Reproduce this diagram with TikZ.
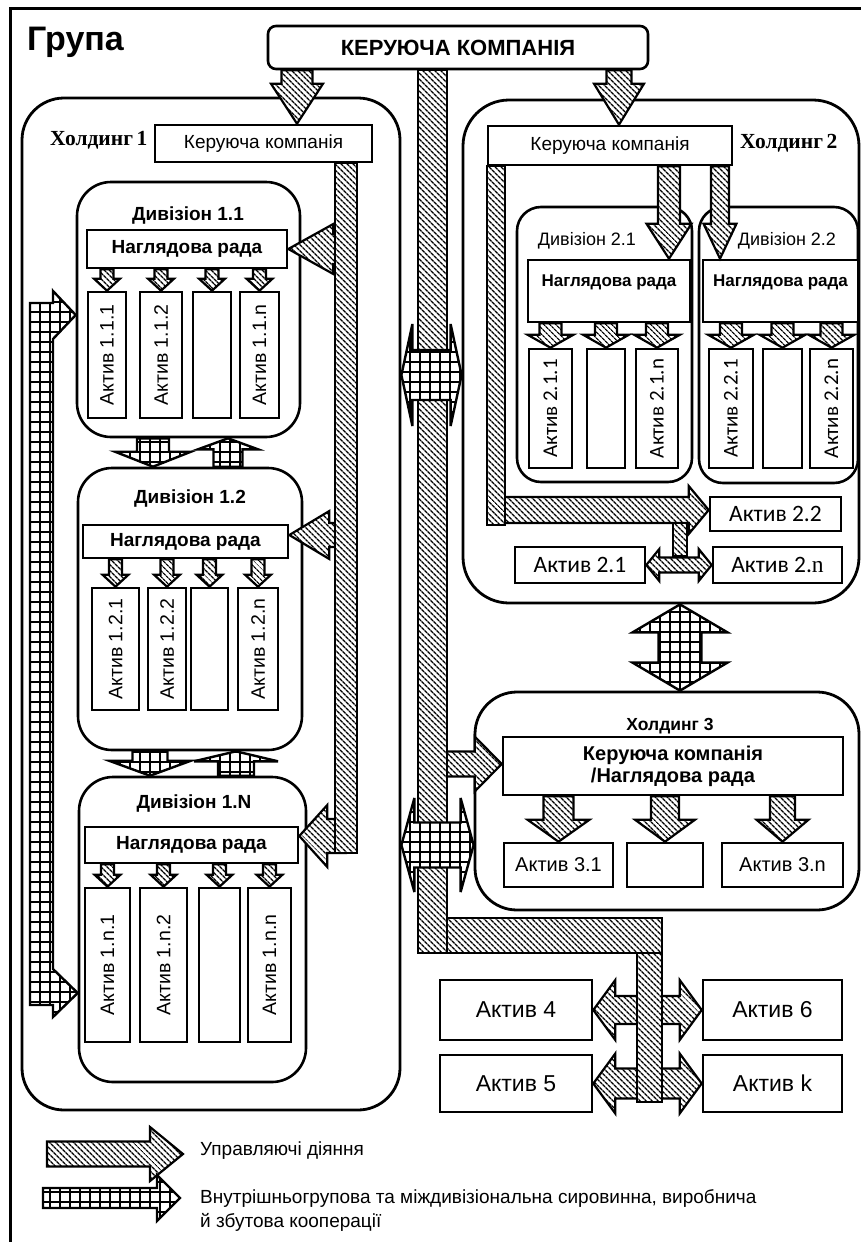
\documentclass[tikz,border=0pt]{standalone}
\usepackage{fontspec}
\setmainfont{Liberation Sans}
\newfontfamily\timesfont{Liberation Serif}
\newfontfamily\calfont{Carlito}
\usetikzlibrary{calc,patterns.meta}

\newcommand{\fatarrow}[6][hatchfill]{%
  \coordinate (fah) at ($(#3)!#6pt!(#2)$);
  \draw[#1] ($(#2)!#4pt!90:(#3)$) -- ($(fah)!#4pt!-90:(#2)$)
    -- ($(fah)!#5pt!-90:(#2)$) -- (#3) -- ($(fah)!#5pt!90:(#2)$)
    -- ($(fah)!#4pt!90:(#2)$) -- ($(#2)!#4pt!-90:(#3)$) -- cycle;}
\newcommand{\fatdarrow}[6][gridfill]{%
  \coordinate (fda) at ($(#2)!#6pt!(#3)$);
  \coordinate (fdb) at ($(#3)!#6pt!(#2)$);
  \draw[#1] (#2) -- ($(fda)!#5pt!90:(#3)$) -- ($(fda)!#4pt!90:(#3)$)
    -- ($(fdb)!#4pt!-90:(#2)$) -- ($(fdb)!#5pt!-90:(#2)$) -- (#3)
    -- ($(fdb)!#5pt!90:(#2)$) -- ($(fdb)!#4pt!90:(#2)$)
    -- ($(fda)!#4pt!-90:(#3)$) -- ($(fda)!#5pt!-90:(#3)$) -- cycle;}

\begin{document}
\begin{tikzpicture}[x=1pt, y=-1pt,
  font=\fontsize{19}{23}\selectfont,
  corners/.style args={#1/#2/#3/#4}{at={({(#1+#3)/2},{(#2+#4)/2})},
    minimum width={(#3)-(#1)}, minimum height={(#4)-(#2)}},
  box/.style={draw, line width=2.6pt, fill=white, inner sep=0pt, align=center},
  topbox/.style={box, rounded corners=8pt, font=\fontsize{22}{26}\selectfont\bfseries},
  holdbox/.style={draw, line width=2.8pt, rounded corners=42pt, inner sep=0pt},
  divbox/.style={draw, line width=2.6pt, rounded corners=34pt, inner sep=0pt},
  subdiv/.style={divbox, rounded corners=24pt},
  nrbox/.style={box, font=\fontsize{19}{23}\selectfont\bfseries},
  nrtop/.style={box, text height=13pt, text depth=23pt, font=\fontsize{17}{21}\selectfont\bfseries},
  vasset/.style={box, label={[rotate=90, font=\fontsize{19.5}{23}\selectfont]center:#1}},
  vassetc/.style={box, label={[rotate=90, font=\fontsize{21}{25}\selectfont\calfont]center:#1}},
  cbox/.style={box, font=\fontsize{23.5}{27}\selectfont\calfont},
  abox/.style={box, font=\fontsize{20}{24}\selectfont},
  bigbox/.style={box, font=\fontsize{23}{27}\selectfont},
  hlabel/.style={font=\fontsize{21.5}{25}\selectfont\timesfont\bfseries, inner sep=0pt},
  divlabel/.style={font=\fontsize{19}{23}\selectfont\bfseries, inner sep=0pt},
  hatchfill/.style={draw, line width=2.2pt, miter limit=6, preaction={fill=white},
    pattern={Lines[angle=-45,distance=4pt,line width=1.4pt]}},
  gridfill/.style={draw, line width=2.4pt, miter limit=6, preaction={fill=white},
    pattern={Hatch[distance=10pt,line width=2.2pt]}},
  frame/.style={line width=3pt}
]
  \useasboundingbox (0,0) rectangle (861,1242);
  \draw[frame] (10,1242) -- (10,8) -- (861,8);
  \node[anchor=base west, inner sep=0pt, font=\fontsize{34}{40}\selectfont\bfseries] (grupa) at (27,50) {Група};

  \node[holdbox, corners=22/98/400/1110] (h1) {};
  \node[holdbox, rounded corners=46pt, corners=463/100/859/603] (h2) {};
  \node[holdbox, corners=475/692/859/910] (h3) {};
  \node[topbox, corners=268/26/648/69] (kktop) {КЕРУЮЧА КОМПАНІЯ};

  \node[box, corners=155/125/372/162] (kk1) {Керуюча компанія};
  \node[hlabel, anchor=base west] (h1lab) at (50,145) {Холдинг\,1};
  \node[divbox, corners=77/182/300/437] (d11) {};
  \node[divbox, corners=78/468/302/750] (d12) {};
  \node[divbox, corners=79/777/306/1082] (d1n) {};
  \node[divlabel, anchor=base] (d11lab) at (188,220) {Дивізіон 1.1};
  \node[divlabel, anchor=base] (d12lab) at (190,503) {Дивізіон 1.2};
  \node[divlabel, anchor=base] (d1nlab) at (194,808) {Дивізіон 1.N};
  \node[nrbox, corners=87/230/287/268] (n11) {Наглядова рада};
  \node[nrbox, corners=83/525/288/558] (n12) {Наглядова рада};
  \node[nrbox, corners=85/827/298/863] (n1n) {Наглядова рада};
  \node[vasset={Актив 1.1.1}, corners=88/292/126/418] (a111) {};
  \node[vasset={Актив 1.1.2}, corners=140/292/182/418] (a112) {};
  \node[vasset={}, corners=193/292/231/418] (a113) {};
  \node[vasset={Актив 1.1.n}, corners=240/292/279/418] (a11n) {};
  \node[vasset={Актив 1.2.1}, corners=92/588/139/710] (a121) {};
  \node[vasset={Актив 1.2.2}, corners=148/588/186/710] (a122) {};
  \node[vasset={}, corners=191/588/228/710] (a123) {};
  \node[vasset={Актив 1.2.n}, corners=238/588/278/710] (a12n) {};
  \node[vasset={Актив 1.n.1}, corners=85/888/130/1042] (a1n1) {};
  \node[vasset={Актив 1.n.2}, corners=140/888/187/1042] (a1n2) {};
  \node[vasset={}, corners=199/888/240/1042] (a1n3) {};
  \node[vasset={Актив 1.n.n}, corners=248/888/291/1042] (a1nn) {};

  \node[box, corners=488/126/732/165] (kk2) {Керуюча компанія};
  \node[hlabel, anchor=base west] (h2lab) at (740,148) {Холдинг\,2};
  \node[subdiv, corners=517/207/692/482] (d21) {};
  \node[subdiv, corners=699/207/858/483] (d22) {};
  \node[anchor=base, inner sep=0pt, font=\fontsize{18}{22}\selectfont] (d21lab) at (587,245) {Дивізіон 2.1};
  \node[anchor=base, inner sep=0pt, font=\fontsize{18}{22}\selectfont] (d22lab) at (787,245) {Дивізіон 2.2};
  \node[nrtop, corners=528/260/690/322] (n21) {Наглядова рада};
  \node[nrtop, corners=703/260/858/322] (n22) {Наглядова рада};
  \node[vassetc={Актив 2.1.1}, corners=529/349/572/468] (a211) {};
  \node[vassetc={}, corners=587/349/625/468] (a212) {};
  \node[vassetc={Актив 2.1.n}, corners=636/349/678/468] (a21n) {};
  \node[vassetc={Актив 2.2.1}, corners=709/349/753/468] (a221) {};
  \node[vassetc={}, corners=763/349/802/468] (a222) {};
  \node[vassetc={Актив 2.2.n}, corners=810/349/853/468] (a22n) {};
  \node[cbox, corners=710/497/841/531] (act22) {Актив 2.2};
  \node[cbox, corners=515/547/645/583] (act21) {Актив 2.1};
  \node[cbox, corners=713/547/842/583] (act2n) {Актив 2.{\timesfont n}};

  \node[divlabel, anchor=base, font=\fontsize{17.5}{21}\selectfont\bfseries] (h3lab) at (670,730) {Холдинг 3};
  \node[box, font=\fontsize{20}{22}\selectfont\bfseries, corners=503/737/843/795] (kk3) {Керуюча компанія\\/Наглядова рада};
  \node[abox, corners=504/843/613/887] (a31) {Актив 3.1};
  \node[abox, corners=627/843/703/887] (a32) {};
  \node[abox, corners=722/843/843/887] (a3n) {Актив 3.n};

  \node[bigbox, corners=440/980/592/1040] (a4) {Актив 4};
  \node[bigbox, corners=703/980/842/1040] (a6) {Актив 6};
  \node[bigbox, corners=440/1055/592/1112] (a5) {Актив 5};
  \node[bigbox, corners=703/1055/842/1112] (ak) {Актив k};

  \coordinate (t1) at (kktop.south -| 297,0); \coordinate (t1e) at (t1 |- kk1.north);
  \fatarrow{t1}{t1e}{15.5}{26}{40}
  \coordinate (t2) at (kktop.south -| 619,0); \coordinate (t2e) at (t2 |- kk2.north);
  \fatarrow{t2}{t2e}{12.5}{25}{41}

  \foreach \a in {a111,a112,a113,a11n}{\coordinate (s) at (n11.south -| \a.north); \fatarrow{s}{\a.north}{6.5}{13}{12}}
  \foreach \a in {a121,a122,a123,a12n}{\coordinate (s) at (n12.south -| \a.north); \fatarrow{s}{\a.north}{6.5}{13}{12}}
  \foreach \a in {a1n1,a1n2,a1n3,a1nn}{\coordinate (s) at (n1n.south -| \a.north); \fatarrow{s}{\a.north}{6.5}{13}{12}}
  \foreach \a in {a211,a212,a21n}{\coordinate (s) at (n21.south -| \a.north); \fatarrow{s}{\a.north}{11}{23}{13}}
  \foreach \a in {a221,a222,a22n}{\coordinate (s) at (n22.south -| \a.north); \fatarrow{s}{\a.north}{11}{23}{13}}
  \foreach \a/\s/\h in {a31/15/31,a32/14/30,a3n/12.5/26}{\coordinate (s) at (kk3.south -| \a.north); \fatarrow{s}{\a.north}{\s}{\h}{22}}

  \coordinate (g1) at (d11.south -| 153,0); \coordinate (g1e) at (d12.north -| 153,0);
  \fatarrow[gridfill]{g1}{g1e}{16}{38}{15}
  \coordinate (g2) at (d12.north -| 228,0); \coordinate (g2e) at (d11.south -| 228,0);
  \fatarrow[gridfill]{g2}{g2e}{14.5}{30}{11}
  \coordinate (g3) at (d12.south -| 150,0); \coordinate (g3e) at (d1n.north -| 150,0);
  \fatarrow[gridfill]{g3}{g3e}{17.5}{41}{15}
  \coordinate (g4) at (d1n.north -| 236,0); \coordinate (g4e) at (d12.south -| 236,0);
  \fatarrow[gridfill]{g4}{g4e}{18}{42}{10}

  \coordinate (b11) at (n11.east -| 346,0);
  \fatarrow{b11}{n11.east}{15}{25}{45}
  \coordinate (e12) at (n12.east |- 0,535); \coordinate (b12) at (e12 -| 346,0);
  \fatarrow{b12}{e12}{12}{24}{40}
  \coordinate (e1n) at (n1n.east |- 0,836); \coordinate (b1n) at (e1n -| 346,0);
  \fatarrow{b1n}{e1n}{17}{31}{28}
  \draw[hatchfill] (kk1.south -| 335,0) rectangle (357,853);

  \draw[gridfill] (30,303) -- (53,303) -- (53,291) -- (d11.west |- 0,315) -- (53,339) -- (53,969)
    -- (d1n.west |- 0,993) -- (53,1017) -- (53,1005) -- (30,1005) -- cycle;

  \coordinate (k21) at (kk2.south -| 669,0); \coordinate (k21e) at (n21.north -| 669,0);
  \fatarrow{k21}{k21e}{11}{22.5}{35}
  \coordinate (k22) at (kk2.south -| 720,0); \coordinate (k22e) at (n22.north -| 720,0);
  \fatarrow{k22}{k22e}{9}{16.5}{35}

  \coordinate (l21) at (496,510); \coordinate (l21e) at (act22.west |- l21);
  \fatarrow{l21}{l21e}{13}{24}{20}
  \draw[hatchfill] (kk2.south west) rectangle (505,525);
  \draw[hatchfill] (673,523) rectangle (687,556);
  \fatdarrow[hatchfill]{act21.east}{act2n.west}{7.5}{16}{13}

  \coordinate (v1) at (h2.south -| 680,0); \coordinate (v2) at (h3.north -| 680,0);
  \fatdarrow{v1}{v2}{21.5}{47.5}{28}

  \coordinate (c3) at (432,764); \coordinate (c3e) at (kk3.west |- c3);
  \fatarrow{c3}{c3e}{12.5}{27.5}{27}
  \draw[hatchfill] (kktop.south -| 418,0) rectangle (447,953);
  \draw[hatchfill] (447,918) rectangle (662,953);
  \coordinate (c1) at (h1.east |- 0,375); \coordinate (c1e) at (h2.west |- c1);
  \fatdarrow{c1}{c1e}{25}{51}{11}
  \coordinate (c2) at (h1.east |- 0,845); \coordinate (c2e) at (h3.west |- c2);
  \fatdarrow{c2}{c2e}{22.5}{47}{13}

  \fatdarrow[hatchfill]{a4.east}{a6.west}{14}{30}{22}
  \fatdarrow[hatchfill]{a5.east}{ak.west}{15}{30}{22}
  \draw[hatchfill] (637,953) rectangle (662,1102);

  \coordinate (lg1) at (47,1154); \coordinate (lg1e) at (183,1154);
  \fatarrow{lg1}{lg1e}{12.5}{27}{33}
  \node[anchor=base west, inner sep=0pt, font=\fontsize{19}{23}\selectfont] (lgt1) at (200,1155) {Управляючі діяння};
  \coordinate (lg2) at (43,1198); \coordinate (lg2e) at (180,1198);
  \fatarrow[gridfill]{lg2}{lg2e}{10}{23}{23}
  \node[anchor=north west, inner sep=0pt, align=left, font=\fontsize{19}{24}\selectfont] (lgt2) at (200,1189)
    {Внутрішньогрупова та міждивізіональна сировинна, виробнича\\й збутова кооперації};
\end{tikzpicture}
\end{document}
